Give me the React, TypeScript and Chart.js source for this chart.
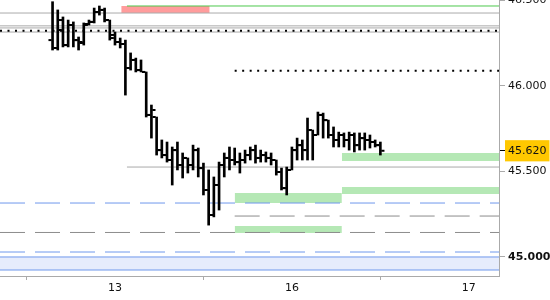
import React, { useEffect, useRef } from "react";
import { Chart, registerables } from "chart.js";

Chart.register(...registerables);

// ---- price bars (OHLC), one per bar slot ----
const opens = [46.266, 46.22, 46.383, 46.237, 46.354, 46.266, 46.249, 46.36, 46.372, 46.43, 46.442, 46.383, 46.296, 46.255, 46.243, 46.103, 46.15, 46.091, 46.08, 45.829, 45.817, 45.624, 45.595, 45.566, 45.624, 45.537, 45.578, 45.537, 45.624, 45.519, 45.391, 45.245, 45.42, 45.537, 45.578, 45.566, 45.554, 45.566, 45.595, 45.624, 45.578, 45.595, 45.578, 45.566, 45.496, 45.402, 45.508, 45.624, 45.653, 45.624, 45.741, 45.712, 45.829, 45.799, 45.712, 45.683, 45.712, 45.683, 45.712, 45.653, 45.694, 45.683, 45.671, 45.653];
const highs = [46.49, 46.442, 46.401, 46.383, 46.372, 46.284, 46.366, 46.383, 46.453, 46.465, 46.453, 46.383, 46.313, 46.278, 46.266, 46.191, 46.161, 46.15, 46.08, 45.887, 45.817, 45.683, 45.671, 45.642, 45.671, 45.607, 45.578, 45.653, 45.636, 45.548, 45.508, 45.467, 45.554, 45.607, 45.642, 45.636, 45.607, 45.624, 45.642, 45.653, 45.624, 45.613, 45.607, 45.566, 45.519, 45.525, 45.642, 45.694, 45.683, 45.811, 45.741, 45.846, 45.84, 45.799, 45.759, 45.729, 45.724, 45.729, 45.724, 45.724, 45.724, 45.712, 45.683, 45.671];
const lows = [46.208, 46.208, 46.226, 46.226, 46.226, 46.208, 46.237, 46.354, 46.366, 46.412, 46.372, 46.266, 46.237, 46.22, 45.945, 46.091, 46.08, 46.08, 45.817, 45.694, 45.595, 45.578, 45.554, 45.42, 45.508, 45.461, 45.49, 45.508, 45.467, 45.362, 45.186, 45.234, 45.274, 45.467, 45.508, 45.537, 45.49, 45.548, 45.566, 45.548, 45.554, 45.554, 45.537, 45.478, 45.391, 45.362, 45.508, 45.566, 45.566, 45.566, 45.566, 45.712, 45.694, 45.694, 45.642, 45.642, 45.642, 45.624, 45.613, 45.624, 45.624, 45.636, 45.642, 45.595];
const closes = [46.22, 46.325, 46.237, 46.354, 46.266, 46.255, 46.354, 46.372, 46.43, 46.442, 46.383, 46.278, 46.255, 46.243, 46.103, 46.15, 46.091, 46.08, 45.829, 45.858, 45.624, 45.595, 45.566, 45.624, 45.537, 45.578, 45.537, 45.624, 45.519, 45.391, 45.245, 45.42, 45.537, 45.578, 45.566, 45.554, 45.566, 45.595, 45.624, 45.578, 45.595, 45.578, 45.566, 45.496, 45.402, 45.508, 45.624, 45.653, 45.624, 45.741, 45.712, 45.829, 45.799, 45.712, 45.683, 45.712, 45.683, 45.712, 45.653, 45.694, 45.683, 45.671, 45.653, 45.62];

// ---- axes ----
const dayLabels = ["13", "16", "17"];
const dayTickBars = [12, 46, 80];
const yTickValues = [45, 45.5, 46, 46.5];
const lastPrice = 45.62;
const xRange = [-10.1, 85.8];
const yRange = [44.889, 46.5];

// ---- level lines: [value, startBar, endBar] ----
const graySolidLevels = [
  [46.424, -10.1, 85.8],
  [46.349, -10.1, 85.8],
  [46.337, -10.1, 85.8],
  [46.313, -10.1, 85.8],
  [45.525, 14.3, 85.8],
];
const greenSolidLevels = [[46.465, 14.3, 85.8]];
const blackDottedLevels = [
  [46.321, -10.1, 85.8],
  [46.0875, 35, 85.8],
];
const blueDashedLevels = [
  [45.315, -10.1, 85.8],
  [45.029, -10.1, 85.8],
];
const grayDashedLevels = [
  [45.239, 35, 85.8],
  [45.143, -10.1, 85.8],
];
const blueSolidLevels = [
  [45.0, -10.1, 85.8],
  [44.924, -10.1, 85.8],
];

// ---- zones: [bottom, top, startBar, endBar] ----
const greenZones = [
  [45.56, 45.607, 55.6, 85.8],
  [45.368, 45.409, 55.6, 85.8],
  [45.315, 45.374, 35, 55.6],
  [45.14, 45.181, 35, 55.6],
];
const pinkZones = [[46.424, 46.465, 13.2, 30.2]];
const blueBands = [[44.924, 45.0, -10.1, 85.8]];

const FONT = "DejaVu Sans";

function levelDataset(l: number[], color: string, width: number, dash: number[], order: number) {
  return {
    type: "line" as const,
    data: [
      { x: l[1], y: l[0] },
      { x: l[2], y: l[0] },
    ],
    borderColor: color,
    borderWidth: width,
    borderDash: dash,
    pointRadius: 0,
    fill: false,
    order,
  };
}

function zoneDataset(z: number[], color: string, order: number) {
  return {
    type: "line" as const,
    data: [
      { x: z[2], y: z[1] },
      { x: z[3], y: z[1] },
    ],
    borderColor: "rgba(0,0,0,0)",
    borderWidth: 0,
    pointRadius: 0,
    backgroundColor: color,
    fill: { value: z[0] },
    order,
  };
}

export default function App() {
  const ref = useRef<HTMLCanvasElement | null>(null);

  useEffect(() => {
    if (!ref.current) return;
    const datasets: any[] = [];

    greenZones.forEach((z) => datasets.push(zoneDataset(z, "#b5e8b5", 40)));
    pinkZones.forEach((z) => datasets.push(zoneDataset(z, "#ff9c9c", 40)));
    blueBands.forEach((z) => datasets.push(zoneDataset(z, "#e6ecfc", 40)));

    graySolidLevels.forEach((l) => datasets.push(levelDataset(l, "#aaaaaa", 1, [], 30)));
    greenSolidLevels.forEach((l) => datasets.push(levelDataset(l, "#4cc84c", 1, [], 30)));
    grayDashedLevels.forEach((l) => datasets.push(levelDataset(l, "#8c8c8c", 1, [25, 10], 30)));
    blueDashedLevels.forEach((l) => datasets.push(levelDataset(l, "#6f98ec", 1, [25, 10], 30)));
    blueSolidLevels.forEach((l) => datasets.push(levelDataset(l, "#6f98ec", 1, [], 30)));
    blackDottedLevels.forEach((l) => datasets.push(levelDataset(l, "#000000", 2, [2, 5.5], 20)));

    datasets.push({
      type: "bar",
      data: highs.map((h, i) => ({ x: i, y: [lows[i], h] })),
      backgroundColor: "#000",
      barThickness: 2,
      grouped: false,
      order: 1,
    });
    datasets.push({
      type: "line",
      showLine: false,
      data: opens.map((o, i) => ({ x: i - 0.48, y: o })),
      pointStyle: "line",
      pointRadius: 1.6,
      pointBorderWidth: 2,
      pointBorderColor: "#000",
      order: 0,
    });
    datasets.push({
      type: "line",
      showLine: false,
      data: closes.map((c, i) => ({ x: i + 0.48, y: c })),
      pointStyle: "line",
      pointRadius: 1.6,
      pointBorderWidth: 2,
      pointBorderColor: "#000",
      order: 0,
    });

    const chart = new Chart(ref.current, {
      type: "bar",
      data: { datasets },
      options: {
        animation: false,
        responsive: true,
        maintainAspectRatio: false,
        events: [],
        layout: { padding: 0, autoPadding: false },
        plugins: { legend: { display: false }, tooltip: { enabled: false } },
        scales: {
          x: {
            type: "linear",
            min: xRange[0],
            max: xRange[1],
            offset: false,
            afterBuildTicks: (s: any) => {
              s.ticks = dayTickBars.map((v) => ({ value: v }));
            },
            afterFit: (s: any) => {
              s.height = 24;
              s.paddingLeft = 0;
              s.paddingRight = 0;
            },
            ticks: {
              autoSkip: false,
              maxRotation: 0,
              padding: 2,
              color: "#111",
              font: { family: FONT, size: 11 },
              callback: (v: any) => {
                const k = dayTickBars.indexOf(Number(v));
                return k >= 0 ? dayLabels[k] : "";
              },
            },
            grid: { drawOnChartArea: false, tickLength: 4, color: "#aaaaaa" },
            border: { color: "#aaaaaa" },
          },
          y: {
            type: "linear",
            position: "right",
            min: yRange[0],
            max: yRange[1],
            afterBuildTicks: (s: any) => {
              s.ticks = [...yTickValues, lastPrice].sort((a, b) => a - b).map((v) => ({ value: v }));
            },
            afterFit: (s: any) => {
              s.width = 51;
              s.paddingTop = 0;
              s.paddingBottom = 0;
            },
            ticks: {
              autoSkip: false,
              padding: 3,
              color: "#111",
              font: (ctx: any) => ({
                family: FONT,
                size: 11,
                weight: ctx.tick && ctx.tick.value === 45 ? "bold" : "normal",
              }),
              showLabelBackdrop: true,
              backdropColor: (ctx: any) =>
                ctx.tick && ctx.tick.value === lastPrice ? "#ffc800" : "rgba(0,0,0,0)",
              backdropPadding: { top: 4, bottom: 4, left: 3, right: 3 },
              callback: (v: any) => Number(v).toFixed(3),
            },
            grid: {
              drawOnChartArea: false,
              tickLength: 6,
              color: "#aaaaaa",
              tickColor: (ctx: any) =>
                ctx.tick && ctx.tick.value === lastPrice ? "#000" : "#aaaaaa",
            },
            border: { color: "#aaaaaa" },
          },
        },
      } as any,
    });
    return () => chart.destroy();
  }, []);

  return (
    <div style={{ position: "fixed", left: 0, top: 0, width: 550, height: 300, background: "#fff" }}>
      <canvas ref={ref} />
    </div>
  );
}
